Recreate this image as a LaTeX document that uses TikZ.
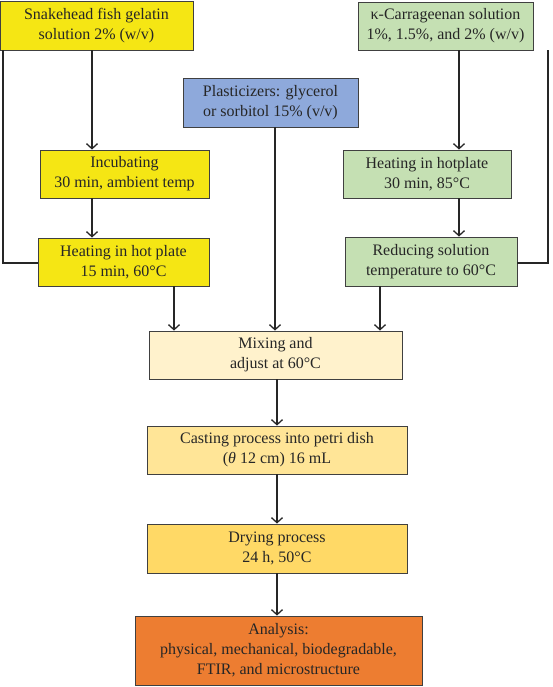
\documentclass[tikz,border=0pt]{standalone}
\usepackage{fontspec}
\setmainfont{Liberation Serif}
\usepackage{xcolor}
\usetikzlibrary{arrows.meta}
\definecolor{gelyellow}{HTML}{F5E614}
\definecolor{carrgreen}{HTML}{C5E0B3}
\definecolor{plastblue}{HTML}{8EA9DB}
\definecolor{mixcream}{HTML}{FFF2CC}
\definecolor{castgold}{HTML}{FFE597}
\definecolor{drygold}{HTML}{FFD966}
\definecolor{analorange}{HTML}{ED7D31}
\tikzset{
  flbox/.style={draw=black!75, line width=0.9pt, align=center, inner sep=0pt,
    font=\fontsize{16}{20}\selectfont, text=black!85},
  flgel/.style={flbox, fill=gelyellow},
  flcarr/.style={flbox, fill=carrgreen},
  flplast/.style={flbox, fill=plastblue},
  flarrow/.style={line width=1.3pt, draw=black!85, -{Straight Barb[length=5pt,width=11pt]}},
  flline/.style={line width=1.7pt, draw=black!85},
}
\begin{document}
\begin{tikzpicture}[x=1pt, y=-1pt]
\useasboundingbox (0,0) rectangle (553,687);
\node[flgel, minimum width=193pt, minimum height=49pt] (gel) at (96.5,25.5) {Snakehead fish gelatin\\solution 2\% (w/v)};
\node[flgel, minimum width=169pt, minimum height=48pt] (incub) at (124.5,174) {Incubating\\30 min, ambient temp};
\node[flgel, minimum width=171pt, minimum height=48pt] (heatgel) at (123.5,262) {Heating in hot plate\\15 min, 60°C};
\node[flplast, minimum width=175pt, minimum height=49pt] (plast) at (270.5,102.5) {Plasticizers: glycerol\\or sorbitol 15\% (v/v)};
\node[flcarr, minimum width=175pt, minimum height=48pt] (carr) at (445.5,26) {κ-Carrageenan solution\\1\%, 1.5\%, and 2\% (w/v)};
\node[flcarr, minimum width=168pt, minimum height=48pt] (heatcarr) at (427,174) {Heating in hotplate\\30 min, 85°C};
\node[flcarr, minimum width=172pt, minimum height=49pt] (reduce) at (431,261.5) {Reducing solution\\temperature to 60°C};
\node[flbox, fill=mixcream, minimum width=253pt, minimum height=48pt] (mix) at (275.5,355) {Mixing and\\adjust at 60°C};
\node[flbox, fill=castgold, minimum width=260pt, minimum height=48pt] (cast) at (277,450) {Casting process into petri dish\\({\itshape θ} 12 cm) 16 mL};
\node[flbox, fill=drygold, minimum width=260pt, minimum height=49pt] (dry) at (277,548.5) {Drying process\\24 h, 50°C};
\node[flbox, fill=analorange, minimum width=287pt, minimum height=69pt] (anal) at (278.5,650.5) {Analysis:\\physical, mechanical, biodegradable,\\FTIR, and microstructure};
% guide columns for the arrows
\coordinate (cgel) at (92,0);
\coordinate (cheat) at (174,0);
\coordinate (cplast) at (275,0);
\coordinate (ccarr) at (459,0);
\coordinate (cred) at (380,0);
\coordinate (cmid) at (277,0);
\coordinate (cleft) at (3,263);
\coordinate (cright) at (548,263);
% gelatin side
\draw[flarrow] (gel.south -| cgel) -- (incub.north -| cgel);
\draw[flarrow] (incub.south -| cgel) -- (heatgel.north -| cgel);
\draw[flline] (gel.south -| cleft) -- (cleft) -- (heatgel.west |- cleft);
% carrageenan side
\draw[flarrow] (carr.south -| ccarr) -- (heatcarr.north -| ccarr);
\draw[flarrow] (heatcarr.south -| ccarr) -- (reduce.north -| ccarr);
\draw[flline] (carr.south -| cright) -- (cright) -- (reduce.east |- cright);
% into mixing
\draw[flarrow] (heatgel.south -| cheat) -- (mix.north -| cheat);
\draw[flarrow] (plast.south -| cplast) -- (mix.north -| cplast);
\draw[flarrow] (reduce.south -| cred) -- (mix.north -| cred);
% main line
\draw[flarrow] (mix.south -| cmid) -- (cast.north -| cmid);
\draw[flarrow] (cast.south -| cmid) -- (dry.north -| cmid);
\draw[flarrow] (dry.south -| cmid) -- (anal.north -| cmid);
\end{tikzpicture}
\end{document}
